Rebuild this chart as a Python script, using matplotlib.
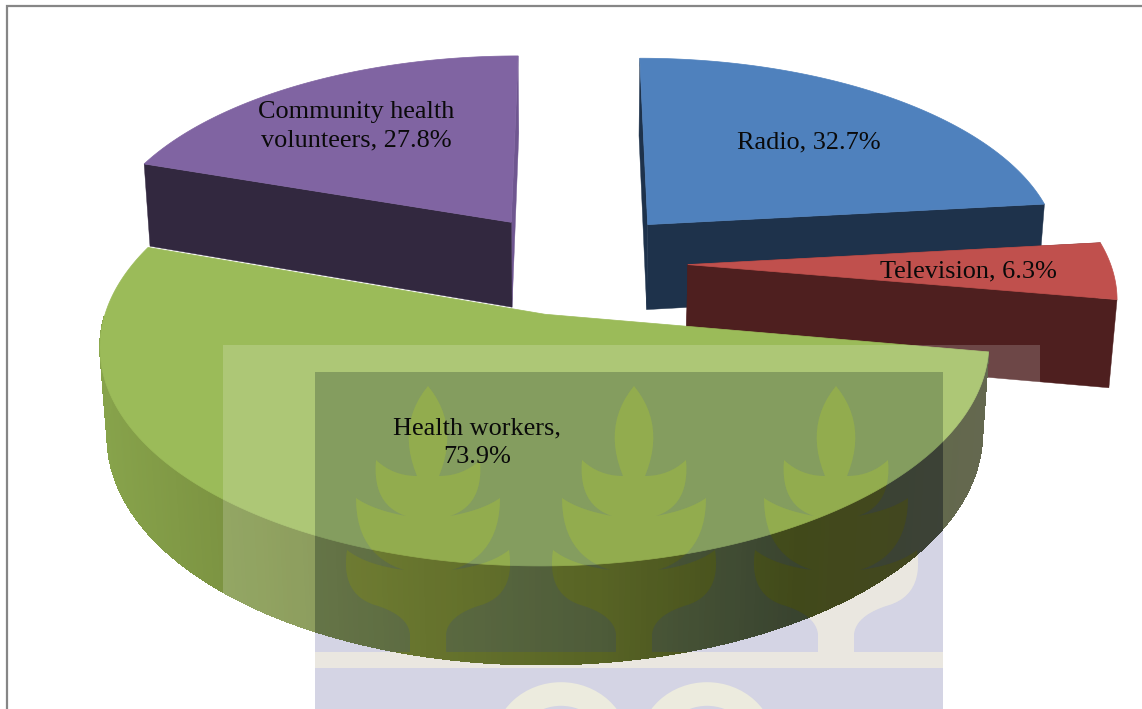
import numpy as np
import matplotlib
matplotlib.use("Agg")
import matplotlib.pyplot as plt
from matplotlib.collections import PolyCollection
from matplotlib.patches import Ellipse, Polygon, Rectangle

LABELS = ["Radio", "Television", "Health workers", "Community health volunteers"]
VALUES = [32.7, 6.3, 73.9, 27.8]
LABEL_TEXT = ["Radio, 32.7%", "Television, 6.3%", "Health workers,\n73.9%", "Community health\nvolunteers, 27.8%"]

TOP_COLORS = ["#4F81BD", "#C0504D", "#9BBB59", "#8064A2"]
FACE_COLORS = ["#1E324B", "#4E1F1F", "#6B8039", "#32283F"]
BACK_FACE_COLORS = ["#1E324B", "#4E1F1F", "#6B8039", "#6F5690"]
LABEL_POS = [(809, 142), (968, 271), (477, 443), (356, 126)]

# camera for the tilted pie, in pixels
XC, YH = 575.0, -1212.0
SCALE_X, GROUND, THICK = 422.5, 1477.0, 110.0
DEPTH, DEPTH_Z = 7.36, 0.11
EXPLODE = [0.25, 0.262, 0.25, 0.25]
RADIUS = [0.985, 1.0, 1.007, 0.99]
NUDGE = [(4, -4), (2, -2), (-3, -1), (-4, -3)]

# health workers rim shading, by screen x
SHADE_X = [100, 330, 600, 800, 985]
SHADE_RGB = [(135, 163, 75), (115, 134, 58), (88, 105, 42), (62, 75, 30), (66, 72, 41)]

PLANT_X = [428, 634, 836]


def project(x, y, z=0.0):
    s = DEPTH / (DEPTH + y + DEPTH_Z * z)
    return XC + SCALE_X * x * s, YH + (GROUND + THICK * z) * s


def draw_slice(ax, a0, a1, i, shaded=False):
    mid = np.radians((a0 + a1) / 2)
    ox, oy = EXPLODE[i] * np.sin(mid), EXPLODE[i] * np.cos(mid)
    t = np.radians(np.linspace(a0, a1, 300))
    nudge = np.array(NUDGE[i])

    def rim(z):
        return np.column_stack(project(ox + RADIUS[i] * np.sin(t), oy + RADIUS[i] * np.cos(t), z)) + nudge

    rim_top, rim_bot = rim(0.0), rim(1.0)
    top, face, back = TOP_COLORS[i], FACE_COLORS[i], BACK_FACE_COLORS[i]

    # outer wall only shows on the big front slice
    if shaded:
        steps = [k for k in range(len(t) - 1) if np.cos(t[k]) < -0.02]
        quads = [[rim_top[k], rim_top[k + 1], rim_bot[k + 1], rim_bot[k]] for k in steps]
        xs = np.array([q[0][0] for q in quads])
        cols = np.column_stack([np.interp(xs, SHADE_X, [c[n] for c in SHADE_RGB]) for n in range(3)]) / 255
        ax.add_collection(PolyCollection(quads, facecolors=cols, edgecolors=cols, linewidths=0.5,
                                         antialiaseds=False, zorder=ax.order))

    apex_top = np.array(project(ox, oy)) + nudge
    apex_bot = np.array(project(ox, oy, 1.0)) + nudge
    # cut faces, the far one first
    far, near = (0, -1) if np.cos(t[0]) > np.cos(t[-1]) else (-1, 0)
    if not shaded:
        for idx, col in ((far, back), (near, face)):
            ax.add_patch(Polygon([apex_top, rim_top[idx], rim_bot[idx], apex_bot], fc=col, ec=col, lw=0.3, zorder=ax.order))

    ax.add_patch(Polygon(np.vstack([[apex_top], rim_top]), fc=top, ec=top, lw=0.5, zorder=ax.order + 0.1))
    ax.order += 1


def curve(p0, c, p1, n=14):
    u = np.linspace(0, 1, n)[:, None]
    p0, c, p1 = map(np.array, (p0, c, p1))
    return (1 - u) ** 2 * p0 + 2 * u * (1 - u) * c + u ** 2 * p1


def plant_outline(cx, base):
    # right half of a sprig as (dx, y), mirrored for the left half
    half = np.vstack([
        curve((0, 386), (32, 425), (11, 476)),
        curve((11, 476), (35, 476), (52, 460)),
        curve((52, 460), (56, 505), (22, 516)),
        curve((22, 516), (55, 510), (72, 498)),
        curve((72, 498), (72, 555), (24, 570)),
        curve((24, 570), (62, 565), (81, 550)),
        curve((81, 550), (88, 596), (50, 606)),
        curve((50, 606), (20, 616), (18, 634)),
        [(18, base)],
    ])
    right = np.column_stack([cx + half[:, 0], half[:, 1]])
    left = np.column_stack([cx - half[::-1, 0], half[::-1, 1]])
    return np.vstack([left, right])


fig = plt.figure(figsize=(11.42, 7.09), dpi=100, facecolor="white")
ax = fig.add_axes([0, 0, 1, 1])
ax.set_xlim(0, 1142)
ax.set_ylim(709, 0)
ax.axis("off")
ax.order = 2

# frame around the chart area
ax.plot([7, 7, 1142], [709, 6, 6], color="#868686", lw=1.6, zorder=1, solid_joinstyle="miter")

# pie angles run clockwise from twelve o'clock
angles = np.cumsum([0] + VALUES) / sum(VALUES) * 360
for i in [3, 0, 1, 2]:
    draw_slice(ax, angles[i], angles[i + 1], i, shaded=LABELS[i] == "Health workers")

# crest laid over the chart
WM = 50
L0, R0, T0 = 223, 1040, 345
L1, R1, T1 = 315, 943, 372
BAR0, BAR1 = 652, 668
pane = dict(fc="white", ec="none", alpha=0.18, zorder=WM)
ax.add_patch(Rectangle((L0, T0), R0 - L0, T1 - T0, **pane))
ax.add_patch(Rectangle((L0, T1), L1 - L0, 709 - T1, **pane))
ax.add_patch(Rectangle((R1, T1), R0 - R1, 709 - T1, **pane))

sprigs = np.vstack([plant_outline(x, BAR0) for x in PLANT_X])
tint = dict(fc=(40 / 255, 40 / 255, 120 / 255), ec="none", alpha=0.2, zorder=WM)
light = dict(fc=(88 / 255, 64 / 255, 0), ec="none", alpha=0.12, zorder=WM)
ax.add_patch(Polygon(np.vstack([[(L1, BAR0), (L1, T1), (R1, T1), (R1, BAR0)], sprigs[::-1]]), **tint))
ax.add_patch(Polygon(np.vstack([[(L1, BAR1), (L1, BAR0)], sprigs, [(R1, BAR0), (R1, BAR1)]]), **light))
ax.add_patch(Rectangle((L1, BAR1), R1 - L1, 709 - BAR1, **tint))
for x in (561, 707):
    ax.add_patch(Ellipse((x, 745), 112, 102, fc="none", ec="#ECEBDE", lw=17, zorder=WM + 1))

for text, (x, y) in zip(LABEL_TEXT, LABEL_POS):
    ax.text(x, y, text, family=["Liberation Serif"], fontsize=18.9, color="#0A0A0A",
            ha="center", va="center", linespacing=1.4, zorder=WM + 5)

fig.savefig("out.png", dpi=100)
